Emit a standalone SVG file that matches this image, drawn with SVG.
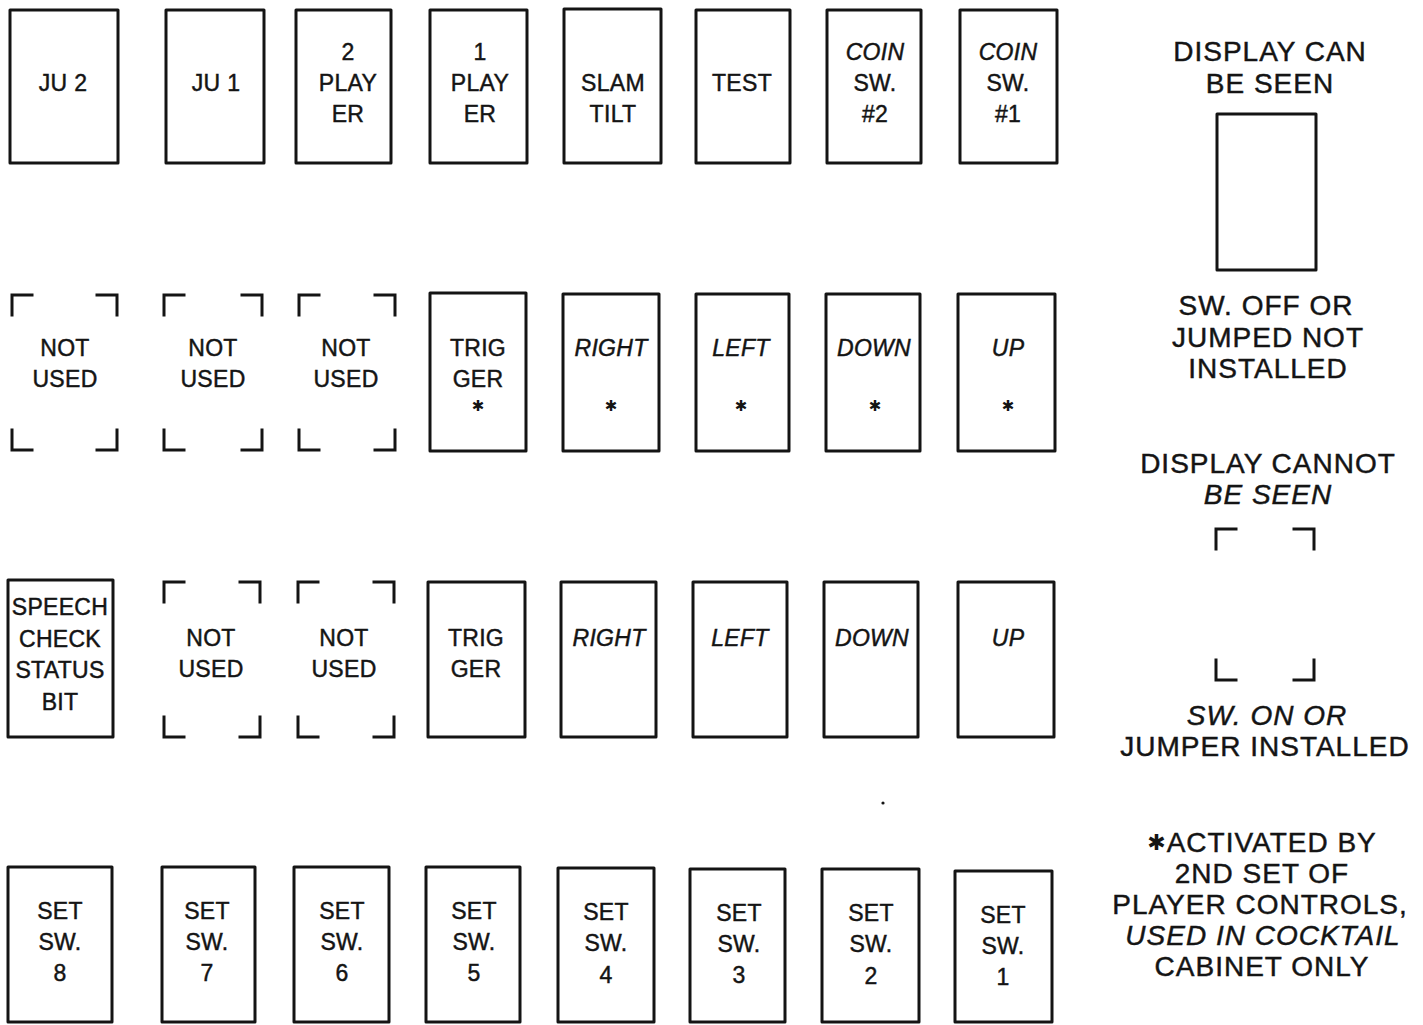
<svg xmlns="http://www.w3.org/2000/svg" width="1423" height="1025" viewBox="0 0 1423 1025">
<style>
.box{fill:none;stroke:#141414;stroke-width:3;stroke-linejoin:round}
.br{fill:none;stroke:#141414;stroke-width:3;stroke-linecap:square}
.t{font-family:"Liberation Sans",Arial,sans-serif;font-size:23px;letter-spacing:0.3px;text-anchor:middle;dominant-baseline:central;fill:#141414;stroke:#141414;stroke-width:0.45}
.i{font-style:italic}
.lg{font-size:28px;letter-spacing:1px}
.ast{font-family:"DejaVu Sans",sans-serif;font-size:15px;text-anchor:middle;dominant-baseline:central;fill:#141414}
</style>
<rect width="1423" height="1025" fill="#ffffff"/>
<g id="connectors"/>

<!-- Row 1 -->
<g id="r1-ju2"><rect class="box" x="10" y="10" width="108" height="153"/><text class="t" x="63" y="83">JU 2</text></g>
<g id="r1-ju1"><rect class="box" x="166" y="10" width="98" height="153"/><text class="t" x="216" y="83">JU 1</text></g>
<g id="r1-2player"><rect class="box" x="296" y="10" width="95" height="153"/><text class="t" x="348" y="52">2</text><text class="t" x="348" y="83">PLAY</text><text class="t" x="348" y="114">ER</text></g>
<g id="r1-1player"><rect class="box" x="430" y="10" width="97" height="153"/><text class="t" x="480" y="52">1</text><text class="t" x="480" y="83">PLAY</text><text class="t" x="480" y="114">ER</text></g>
<g id="r1-slam"><rect class="box" x="564" y="9" width="97" height="154"/><text class="t" x="613" y="83">SLAM</text><text class="t" x="613" y="114">TILT</text></g>
<g id="r1-test"><rect class="box" x="696" y="10" width="94" height="153"/><text class="t" x="742" y="83">TEST</text></g>
<g id="r1-coin2"><rect class="box" x="827" y="10" width="94" height="153"/><text class="t i" x="875" y="52">COIN</text><text class="t" x="875" y="83">SW.</text><text class="t" x="875" y="114">#2</text></g>
<g id="r1-coin1"><rect class="box" x="960" y="10" width="97" height="153"/><text class="t i" x="1008" y="52">COIN</text><text class="t" x="1008" y="83">SW.</text><text class="t" x="1008" y="114">#1</text></g>

<!-- Row 2 -->
<g id="r2-nu1"><path class="br" d="M12,315 V295 H32 M97,295 H117 V315 M12,430 V450 H32 M97,450 H117 V430"/><text class="t" x="65" y="348">NOT</text><text class="t" x="65" y="379">USED</text></g>
<g id="r2-nu2"><path class="br" d="M164,315 V295 H184 M242,295 H262 V315 M164,430 V450 H184 M242,450 H262 V430"/><text class="t" x="213" y="348">NOT</text><text class="t" x="213" y="379">USED</text></g>
<g id="r2-nu3"><path class="br" d="M299,315 V295 H319 M375,295 H395 V315 M299,430 V450 H319 M375,450 H395 V430"/><text class="t" x="346" y="348">NOT</text><text class="t" x="346" y="379">USED</text></g>
<g id="r2-trig"><rect class="box" x="430" y="293" width="96" height="158"/><text class="t" x="478" y="348">TRIG</text><text class="t" x="478" y="379">GER</text><text class="ast" x="478" y="406">✱</text></g>
<g id="r2-right"><rect class="box" x="563" y="294" width="96" height="157"/><text class="t i" x="611" y="348">RIGHT</text><text class="ast" x="611" y="406">✱</text></g>
<g id="r2-left"><rect class="box" x="696" y="294" width="93" height="157"/><text class="t i" x="741" y="348">LEFT</text><text class="ast" x="741" y="406">✱</text></g>
<g id="r2-down"><rect class="box" x="826" y="294" width="94" height="157"/><text class="t i" x="874" y="348">DOWN</text><text class="ast" x="875" y="406">✱</text></g>
<g id="r2-up"><rect class="box" x="958" y="294" width="97" height="157"/><text class="t i" x="1008" y="348">UP</text><text class="ast" x="1008" y="406">✱</text></g>

<!-- Row 3 -->
<g id="r3-speech"><rect class="box" x="8" y="580" width="105" height="157"/><text class="t" x="60" y="607">SPEECH</text><text class="t" x="60" y="639">CHECK</text><text class="t" x="60" y="670">STATUS</text><text class="t" x="60" y="702">BIT</text></g>
<g id="r3-nu2"><path class="br" d="M164,602 V582 H184 M240,582 H260 V602 M164,717 V737 H184 M240,737 H260 V717"/><text class="t" x="211" y="638">NOT</text><text class="t" x="211" y="669">USED</text></g>
<g id="r3-nu3"><path class="br" d="M298,602 V582 H318 M374,582 H394 V602 M298,717 V737 H318 M374,737 H394 V717"/><text class="t" x="344" y="638">NOT</text><text class="t" x="344" y="669">USED</text></g>
<g id="r3-trig"><rect class="box" x="428" y="582" width="97" height="155"/><text class="t" x="476" y="638">TRIG</text><text class="t" x="476" y="669">GER</text></g>
<g id="r3-right"><rect class="box" x="561" y="582" width="95" height="155"/><text class="t i" x="609" y="638">RIGHT</text></g>
<g id="r3-left"><rect class="box" x="693" y="582" width="94" height="155"/><text class="t i" x="740" y="638">LEFT</text></g>
<g id="r3-down"><rect class="box" x="824" y="582" width="94" height="155"/><text class="t i" x="872" y="638">DOWN</text></g>
<g id="r3-up"><rect class="box" x="958" y="582" width="96" height="155"/><text class="t i" x="1008" y="638">UP</text></g>

<!-- Row 4 -->
<g id="r4-sw8"><rect class="box" x="8" y="867" width="104" height="155"/><text class="t" x="60" y="911">SET</text><text class="t" x="60" y="942">SW.</text><text class="t" x="60" y="973">8</text></g>
<g id="r4-sw7"><rect class="box" x="162" y="867" width="93" height="155"/><text class="t" x="207" y="911">SET</text><text class="t" x="207" y="942">SW.</text><text class="t" x="207" y="973">7</text></g>
<g id="r4-sw6"><rect class="box" x="294" y="867" width="95" height="155"/><text class="t" x="342" y="911">SET</text><text class="t" x="342" y="942">SW.</text><text class="t" x="342" y="973">6</text></g>
<g id="r4-sw5"><rect class="box" x="426" y="867" width="94" height="155"/><text class="t" x="474" y="911">SET</text><text class="t" x="474" y="942">SW.</text><text class="t" x="474" y="973">5</text></g>
<g id="r4-sw4"><rect class="box" x="558" y="868" width="96" height="154"/><text class="t" x="606" y="912">SET</text><text class="t" x="606" y="943">SW.</text><text class="t" x="606" y="975">4</text></g>
<g id="r4-sw3"><rect class="box" x="690" y="869" width="95" height="153"/><text class="t" x="739" y="913">SET</text><text class="t" x="739" y="944">SW.</text><text class="t" x="739" y="975">3</text></g>
<g id="r4-sw2"><rect class="box" x="822" y="869" width="97" height="153"/><text class="t" x="871" y="913">SET</text><text class="t" x="871" y="944">SW.</text><text class="t" x="871" y="976">2</text></g>
<g id="r4-sw1"><rect class="box" x="955" y="871" width="97" height="151"/><text class="t" x="1003" y="915">SET</text><text class="t" x="1003" y="946">SW.</text><text class="t" x="1003" y="977">1</text></g>

<!-- Legend -->
<g id="legend-seen">
<text class="t lg" x="1270" y="51">DISPLAY CAN</text>
<text class="t lg" x="1270" y="83">BE SEEN</text>
<rect class="box" x="1217" y="114" width="99" height="156"/>
<text class="t lg" x="1266" y="305">SW. OFF OR</text>
<text class="t lg" x="1268" y="337">JUMPED NOT</text>
<text class="t lg" x="1268" y="368">INSTALLED</text>
</g>
<g id="legend-notseen">
<text class="t lg" x="1268" y="463">DISPLAY CANNOT</text>
<text class="t lg i" x="1268" y="494">BE SEEN</text>
<path class="br" d="M1216,549 V529 H1236 M1294,529 H1314 V549 M1216,660 V680 H1236 M1294,680 H1314 V660"/>
<text class="t lg i" x="1267" y="715">SW. ON OR</text>
<text class="t lg" x="1265" y="746">JUMPER INSTALLED</text>
</g>
<g id="legend-note">
<text class="t lg" x="1262" y="842"><tspan font-family="DejaVu Sans" font-size="22" stroke-width="0">✱</tspan>ACTIVATED BY</text>
<text class="t lg" x="1262" y="873">2ND SET OF</text>
<text class="t lg" x="1260" y="904">PLAYER CONTROLS,</text>
<text class="t lg i" x="1263" y="935">USED IN COCKTAIL</text>
<text class="t lg" x="1262" y="966">CABINET ONLY</text>
</g>
<circle cx="883" cy="803" r="1.6" fill="#141414"/>
</svg>
